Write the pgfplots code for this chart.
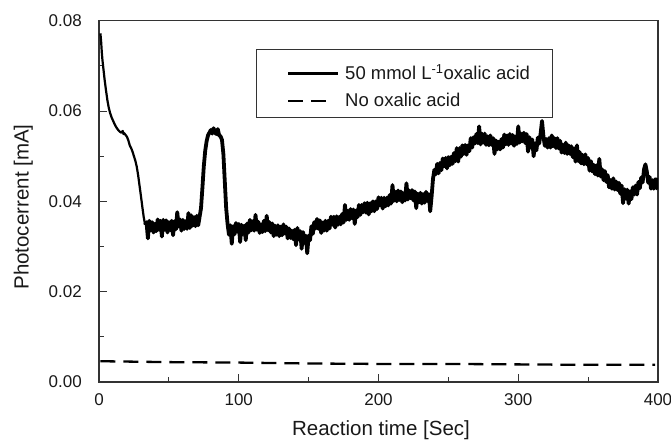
\documentclass[border=0pt]{standalone}
\usepackage{fontspec}
\setmainfont{Liberation Sans}
\usepackage{pgfplots}
\pgfplotsset{compat=1.18}
\begin{document}
\begin{tikzpicture}
\useasboundingbox (-99pt,-59pt) rectangle (572pt,382pt);
\begin{axis}[
  at={(0pt,0pt)}, anchor=south west,
  scale only axis, width=559pt, height=361.3pt,
  xmin=0, xmax=400, ymin=0, ymax=0.08,
  scaled y ticks=false, scaled x ticks=false,
  xtick={0,100,200,300,400}, xticklabels={0,100,200,300,400},
  minor xtick={50,150,250,350},
  ytick={0,0.02,0.04,0.06,0.08}, yticklabels={0.00,0.02,0.04,0.06,0.08},
  minor ytick={0.01,0.03,0.05,0.07},
  tick pos=left, tick align=inside,
  major tick length=8pt, minor tick length=5pt,
  every tick/.style={black!80, line width=1pt},
  axis line style={black!80, line width=1.3pt},
  ticklabel style={font=\fontsize{17}{17}\selectfont, text=black!90},
  xticklabel style={anchor=center, yshift=-18pt},
  yticklabel style={anchor=east, inner sep=0pt, xshift=-17pt},
  xlabel={Reaction time [Sec]},
  ylabel={Photocerrent [mA]},
  label style={font=\fontsize{20.5}{20.5}\selectfont, text=black!90},
  xlabel style={at={(rel axis cs:0.5045,-0.1467)}, anchor=base},
  ylabel style={at={(rel axis cs:-0.1261,0.4844)}, anchor=base},
]
% 50 mmol/L oxalic acid: smooth initial decay
\addplot[black, line width=2.2pt, line join=round] coordinates {
(1,0.0772) (1.5,0.0755) (2,0.0730) (2.5,0.0712) (3,0.0698) (4,0.0670) (5,0.0646) (6,0.0624) (7,0.0607) (8,0.0595) (9,0.0586) (10,0.0579) (11,0.0572) (12,0.0566) (13,0.0561) (14,0.0557) (15,0.0554) (16,0.0552) (17,0.0556) (17.5,0.0549) (18,0.0551) (19,0.0547) (20,0.0543) (21,0.0535) (22,0.0524) (23,0.0518) (24,0.0510) (25,0.0500) (26,0.0490) (27,0.0477) (28,0.0458) (29,0.0435) (30,0.0412) (31,0.0388) (32,0.0365) (33,0.0348)
};
% 50 mmol/L oxalic acid: noisy part
\addplot[black, line width=3.8pt, line join=round] coordinates {
(33,0.0348) (34,0.0354) (35,0.0318) (36,0.0357) (37,0.0336) (38,0.0354) (39,0.0331) (40,0.0350) (41,0.0334) (42,0.0360) (43,0.0337) (44,0.0357) (45,0.0322) (46,0.0359) (47,0.0337) (48,0.0358) (49,0.0331) (50,0.0354) (51,0.0336) (52,0.0357) (53,0.0325) (54,0.0356) (55,0.0338) (56,0.0376) (57,0.0344) (58,0.0360) (59,0.0335) (60,0.0359) (61,0.0339) (62,0.0356) (63,0.0339) (64,0.0374) (65,0.0341) (66,0.0369) (67,0.0346) (68,0.0365) (69,0.0345) (70,0.0368) (71,0.0347) (72,0.0366)
(73,0.0385) (74,0.0430) (75,0.0478) (76,0.0512) (77,0.0533) (78,0.0546) (79,0.0552) (80,0.0558) (81,0.0550) (82,0.0562) (83,0.0552) (84,0.0549) (85,0.0560) (86,0.0546) (87,0.0544) (88,0.0536) (89,0.0505) (90,0.0445) (91,0.0385) (92,0.0350)
(93,0.0326) (94,0.0347) (95,0.0306) (96,0.0345) (97,0.0327) (98,0.0352) (99,0.0333) (100,0.0350) (101,0.0310) (102,0.0348) (103,0.0328) (104,0.0346) (105,0.0314) (106,0.0351) (107,0.0331) (108,0.0359) (109,0.0336) (110,0.0356) (111,0.0335) (112,0.0370) (113,0.0337) (114,0.0355) (115,0.0330) (116,0.0349) (117,0.0332) (118,0.0357) (119,0.0334) (120,0.0368) (121,0.0336) (122,0.0354) (123,0.0331) (124,0.0351) (125,0.0323) (126,0.0346) (127,0.0326) (128,0.0347) (129,0.0323) (130,0.0344) (131,0.0325) (132,0.0349) (133,0.0329) (134,0.0344) (135,0.0318) (136,0.0340) (137,0.0319) (138,0.0335) (139,0.0316) (140,0.0337) (141,0.0303) (142,0.0341) (143,0.0316) (144,0.0334) (145,0.0295) (146,0.0332) (147,0.0308) (148,0.0324) (149,0.0285) (150,0.0324) (151,0.0314) (152,0.0345) (153,0.0328) (154,0.0354) (155,0.0340) (156,0.0361) (157,0.0339) (158,0.0358) (159,0.0330) (160,0.0353)
(161,0.0335) (162,0.0357) (163,0.0335) (164,0.0357) (165,0.0340) (166,0.0366) (167,0.0348) (168,0.0366) (169,0.0342) (170,0.0367) (171,0.0348) (172,0.0366) (173,0.0349) (174,0.0372) (175,0.0353) (176,0.0392) (177,0.0359) (178,0.0379) (179,0.0359) (180,0.0383) (181,0.0363) (182,0.0382) (183,0.0350) (184,0.0380) (185,0.0365) (186,0.0392) (187,0.0370) (188,0.0392) (189,0.0376) (190,0.0396) (191,0.0375) (192,0.0397) (193,0.0371) (194,0.0396) (195,0.0378) (196,0.0400) (197,0.0378) (198,0.0400) (199,0.0383) (200,0.0409) (201,0.0391) (202,0.0408) (203,0.0384) (204,0.0408) (205,0.0389) (206,0.0408) (207,0.0391) (208,0.0414) (209,0.0395) (210,0.0436) (211,0.0401) (212,0.0421) (213,0.0400) (214,0.0424) (215,0.0403) (216,0.0422) (217,0.0398) (218,0.0418) (219,0.0402) (220,0.0440) (221,0.0404) (222,0.0424) (223,0.0407) (224,0.0425) (225,0.0402) (226,0.0422) (227,0.0385) (228,0.0417) (229,0.0398) (230,0.0419) (231,0.0395) (232,0.0416) (233,0.0397) (234,0.0421) (235,0.0401) (236,0.0416) (237,0.0378) (238,0.0411) (239,0.0450) (240,0.0470)
(241,0.0460) (242,0.0483) (243,0.0462) (244,0.0485) (245,0.0469) (246,0.0495) (247,0.0478) (248,0.0496) (249,0.0473) (250,0.0498) (251,0.0480) (252,0.0499) (253,0.0483) (254,0.0507) (255,0.0489) (256,0.0518) (257,0.0488) (258,0.0518) (259,0.0499) (260,0.0524) (261,0.0505) (262,0.0525) (263,0.0503) (264,0.0524) (265,0.0511) (266,0.0540) (267,0.0519) (268,0.0542) (269,0.0528) (270,0.0549) (271,0.0529) (272,0.0566) (273,0.0526) (274,0.0550) (275,0.0530) (276,0.0550) (277,0.0525) (278,0.0544) (279,0.0524) (280,0.0546) (281,0.0525) (282,0.0540) (283,0.0505) (284,0.0535) (285,0.0515) (286,0.0532) (287,0.0515) (288,0.0538) (289,0.0519) (290,0.0548) (291,0.0526) (292,0.0546) (293,0.0525) (294,0.0549) (295,0.0528) (296,0.0547) (297,0.0523) (298,0.0543) (299,0.0527) (300,0.0566) (301,0.0530) (302,0.0550) (303,0.0533) (304,0.0552) (305,0.0529) (306,0.0549) (307,0.0510) (308,0.0542) (309,0.0519) (310,0.0537) (311,0.0500) (312,0.0528) (313,0.0513) (314,0.0541) (315,0.0528) (316,0.0550) (317,0.0578) (318,0.0545)
(319,0.0523) (320,0.0538) (321,0.0519) (322,0.0540) (323,0.0519) (324,0.0546) (325,0.0522) (326,0.0540) (327,0.0518) (328,0.0540) (329,0.0517) (330,0.0534) (331,0.0508) (332,0.0525) (333,0.0507) (334,0.0530) (335,0.0505) (336,0.0524) (337,0.0505) (338,0.0522) (339,0.0498) (340,0.0517) (341,0.0488) (342,0.0524) (343,0.0489) (344,0.0509) (345,0.0484) (346,0.0503) (347,0.0482) (348,0.0504) (349,0.0482) (350,0.0496) (351,0.0468) (352,0.0489) (353,0.0466) (354,0.0481) (355,0.0460) (356,0.0480) (357,0.0457) (358,0.0494) (359,0.0455) (360,0.0471) (361,0.0447) (362,0.0467) (363,0.0443) (364,0.0458) (365,0.0431) (366,0.0447) (367,0.0428) (368,0.0451) (369,0.0426) (370,0.0444) (371,0.0425) (372,0.0441) (373,0.0417) (374,0.0435) (375,0.0396) (376,0.0427) (377,0.0406) (378,0.0426) (379,0.0395) (380,0.0422) (381,0.0405) (382,0.0431) (383,0.0415) (384,0.0435) (385,0.0415) (386,0.0443) (387,0.0429) (388,0.0453) (389,0.0442) (390,0.0471) (391,0.0482) (392,0.0466) (393,0.0441) (394,0.0454) (395,0.0428) (396,0.0447) (397,0.0428) (398,0.0449) (399,0.0429) (400,0.0452)
};
% no oxalic acid
\addplot[black, line width=2.3pt, dash pattern=on 15pt off 8pt] coordinates {
(1,0.0046) (50,0.0044) (100,0.0043) (150,0.0041) (200,0.0040) (250,0.0040) (300,0.0039) (350,0.0038) (398,0.0038)
};
% legend
\draw[black!80, line width=1pt] (rel axis cs:0.2809,0.7326) rectangle (rel axis cs:0.8104,0.9208);
\draw[black, line width=2.2pt] (rel axis cs:0.3381,0.8539) -- ++(50pt,0pt);
\draw[black, line width=2.3pt, dash pattern=on 15pt off 8pt] (rel axis cs:0.3381,0.7777) -- ++(39pt,0pt);
\node[anchor=base west, inner sep=0pt, font=\fontsize{18.5}{18.5}\selectfont, text=black!90] at (rel axis cs:0.4401,0.8359) {50 mmol L\textsuperscript{-1}oxalic acid};
\node[anchor=base west, inner sep=0pt, font=\fontsize{18.5}{18.5}\selectfont, text=black!90] at (rel axis cs:0.4401,0.7620) {No oxalic acid};
\end{axis}
\end{tikzpicture}
\end{document}
